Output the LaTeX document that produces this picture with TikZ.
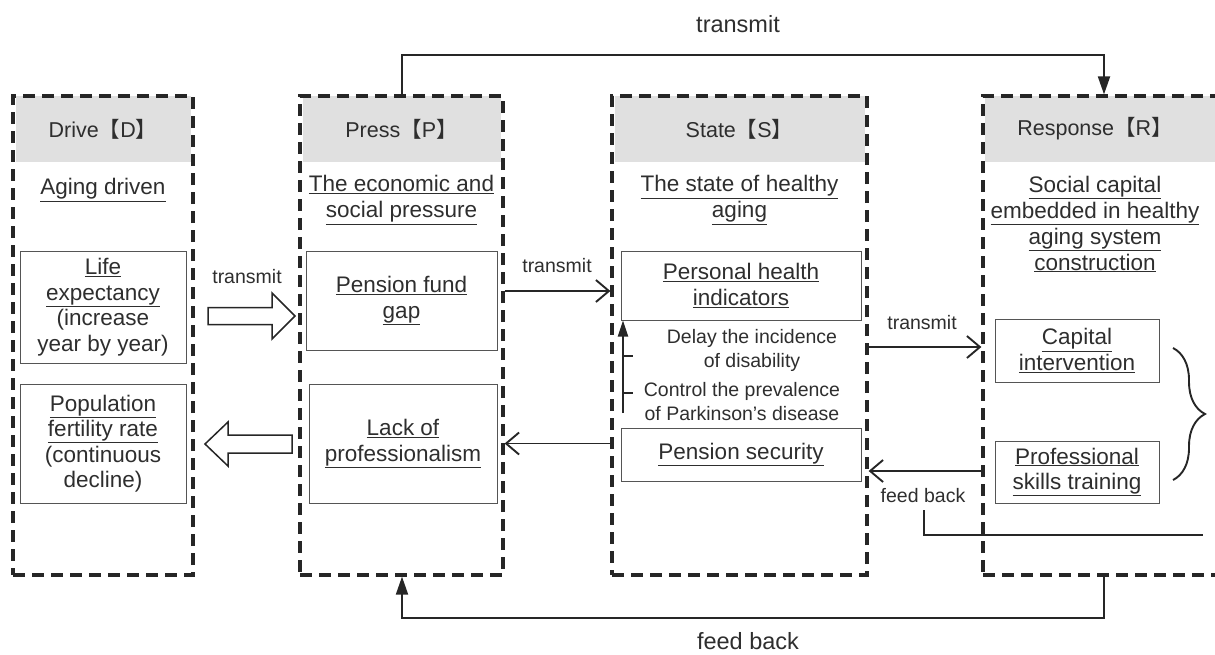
\documentclass[tikz,border=0pt]{standalone}
\usepackage{fontspec}
\setmainfont{Liberation Sans}
\newfontfamily\cjkfont{Noto Sans CJK SC}
\usetikzlibrary{arrows.meta,decorations.pathreplacing,calc}
\definecolor{txt}{HTML}{2E2E2E}
\definecolor{hdr}{HTML}{E0E0E0}
\definecolor{ln}{HTML}{262626}
\definecolor{bx}{HTML}{555555}
\newcommand{\lbk}{{\cjkfont 【}}
\newcommand{\rbk}{{\cjkfont 】}}
\newcommand{\myul}[1]{\underline{#1}}
\begin{document}
\begin{tikzpicture}[x=1pt,y=-1pt,
  col/.style={draw=ln, line width=3.2pt, dash pattern=on 12pt off 7pt, minimum width=#1, minimum height=479pt, inner sep=0pt},
  hdrbox/.style={fill=hdr, minimum width=#1, minimum height=66pt, inner sep=0pt, font=\fontsize{21.5}{26}\selectfont, text=txt},
  title/.style={align=center, inner sep=0pt, text=txt, font=\fontsize{22.5}{26}\selectfont},
  ibox/.style 2 args={draw=bx, line width=1pt, minimum width=#1, minimum height=#2, inner sep=0pt, align=center, text=txt, font=\fontsize{22.5}{25.5}\selectfont},
  small/.style={align=center, inner sep=0pt, text=txt, font=\fontsize{19.5}{24}\selectfont},
  big/.style={inner sep=0pt, text=txt, font=\fontsize{23.5}{26}\selectfont},
  openarr/.style={draw=ln, line width=1.9pt, -{Straight Barb[length=13pt,width=22pt,line width=1.9pt]}},
  fillarr/.style={draw=ln, line width=1.9pt, -{Triangle[length=18pt,width=12pt]}},
  blockarr/.style={draw=ln, line width=1.5pt, fill=white, line join=miter}
]
\useasboundingbox (0,0) rectangle (1215,654);
\clip (0,0) rectangle (1215,654);

% headers
\node[hdrbox=175pt] (hD) at (103,129) {Drive\lbk D\rbk};
\node[hdrbox=198pt] (hP) at (401.5,129) {Press\lbk P\rbk};
\node[hdrbox=250pt] (hS) at (739.5,129) {State\lbk S\rbk};
\node[hdrbox=256pt] (hR) at (1113,129) {};
\node[inner sep=0pt, text=txt, font=\fontsize{21.5}{26}\selectfont] (hRt) at (1095,129) {Response\lbk R\rbk};

% columns
\node[col=180pt] (colD) at (103,335.5) {};
\node[col=203pt] (colP) at (401.5,335.5) {};
\node[col=255pt] (colS) at (739.5,335.5) {};
\node[col=260pt] (colR) at (1113,335.5) {};

% titles
\node[title] (tD) at (103,190) {\myul{Aging driven}};
\node[title] (tP) at (401.5,200) {\myul{The economic and}\\\myul{social pressure}};
\node[title] (tS) at (739.5,200) {\myul{The state of healthy}\\\myul{aging}};
\node[title] (tR) at (1095,224) {\myul{Social capital}\\\myul{embedded in healthy}\\\myul{aging system}\\\myul{construction}};

% inner boxes
\node[ibox={166pt}{112pt}] (life) at (103,307) {\myul{Life}\\\myul{expectancy}\\(increase\\year by year)};
\node[ibox={166pt}{119pt}] (pop) at (103,443.5) {\myul{Population}\\\myul{fertility rate}\\(continuous\\decline)};
\node[ibox={191pt}{99pt}] (pfg) at (401.5,300.5) {\myul{Pension fund}\\\myul{gap}};
\node[ibox={188pt}{119pt}] (lack) at (403,443.5) {\myul{Lack of}\\\myul{professionalism}};
\node[ibox={240pt}{69pt}] (phi) at (741,285.5) {\myul{Personal health}\\\myul{indicators}};
\node[ibox={240pt}{53pt}] (psec) at (741,454.5) {\myul{Pension security}};
\node[ibox={164pt}{63pt}] (cap) at (1077,350.5) {\myul{Capital}\\\myul{intervention}};
\node[ibox={164pt}{62pt}] (pst) at (1077,472) {\myul{Professional}\\\myul{skills training}};

% small texts in S
\node[small] (delay) at (752,350) {Delay the incidence\\of disability};
\node[small] (ctrl) at (742,401.5) {Control the prevalence\\of Parkinson's disease};

% block arrows D <-> P
\draw[blockarr] (208,307.5) -- (272,307.5) -- (272,293) -- (295,316) -- (272,339) -- (272,324.5) -- (208,324.5) -- cycle;
\node[small] (lt1) at (247,277) {transmit};
\draw[blockarr] (292,435) -- (228,435) -- (228,422) -- (205,444) -- (228,466) -- (228,453) -- (292,453) -- cycle;

% connectors
\draw[openarr] (colP.east |- 0,291) -- (colS.west |- 0,291);
\node[small] (lt2) at (557,266) {transmit};
\draw[openarr] (colS.west |- lack.east) -- (colP.east |- lack.east);
\draw[openarr] (colS.east |- 0,347) -- (colR.west |- 0,347);
\node[small] (lt3) at (922,323) {transmit};
\draw[openarr] (colR.west |- 0,471) -- (colS.east |- 0,471);
\node[small] (lf1) at (923,496) {feed back};
\coordinate (fbA) at (924,510);
\coordinate (fbB) at (1203,535);
\draw[draw=ln, line width=1.9pt] (fbA) |- (fbB);

% vertical arrow in S
\coordinate (vS) at (623,413);
\draw[draw=ln, line width=1.9pt, -{Triangle[length=16pt,width=10pt]}] (vS) -- (vS |- phi.south);
\coordinate (tk1) at (623,356);
\coordinate (tk2) at (623,393);
\draw[draw=ln, line width=1.5pt] (tk1) -- ++(10,0);
\draw[draw=ln, line width=1.5pt] (tk2) -- ++(10,0);

% top & bottom loops
\draw[fillarr] (colP.north -| 402,0) -- (402,55) -- (1104,55) -- (colR.north -| 1104,0);
\node[big] (ltop) at (738,24) {transmit};
\draw[fillarr] (colR.south -| 1104,0) -- (1104,618) -- (402,618) -- (colP.south -| 402,0);
\node[big] (lbot) at (748,641) {feed back};

% brace
\draw[draw=ln, line width=1.9pt, decorate, decoration={brace, amplitude=32pt, aspect=0.5}] (1173,348) -- (1173,480);
\end{tikzpicture}
\end{document}
